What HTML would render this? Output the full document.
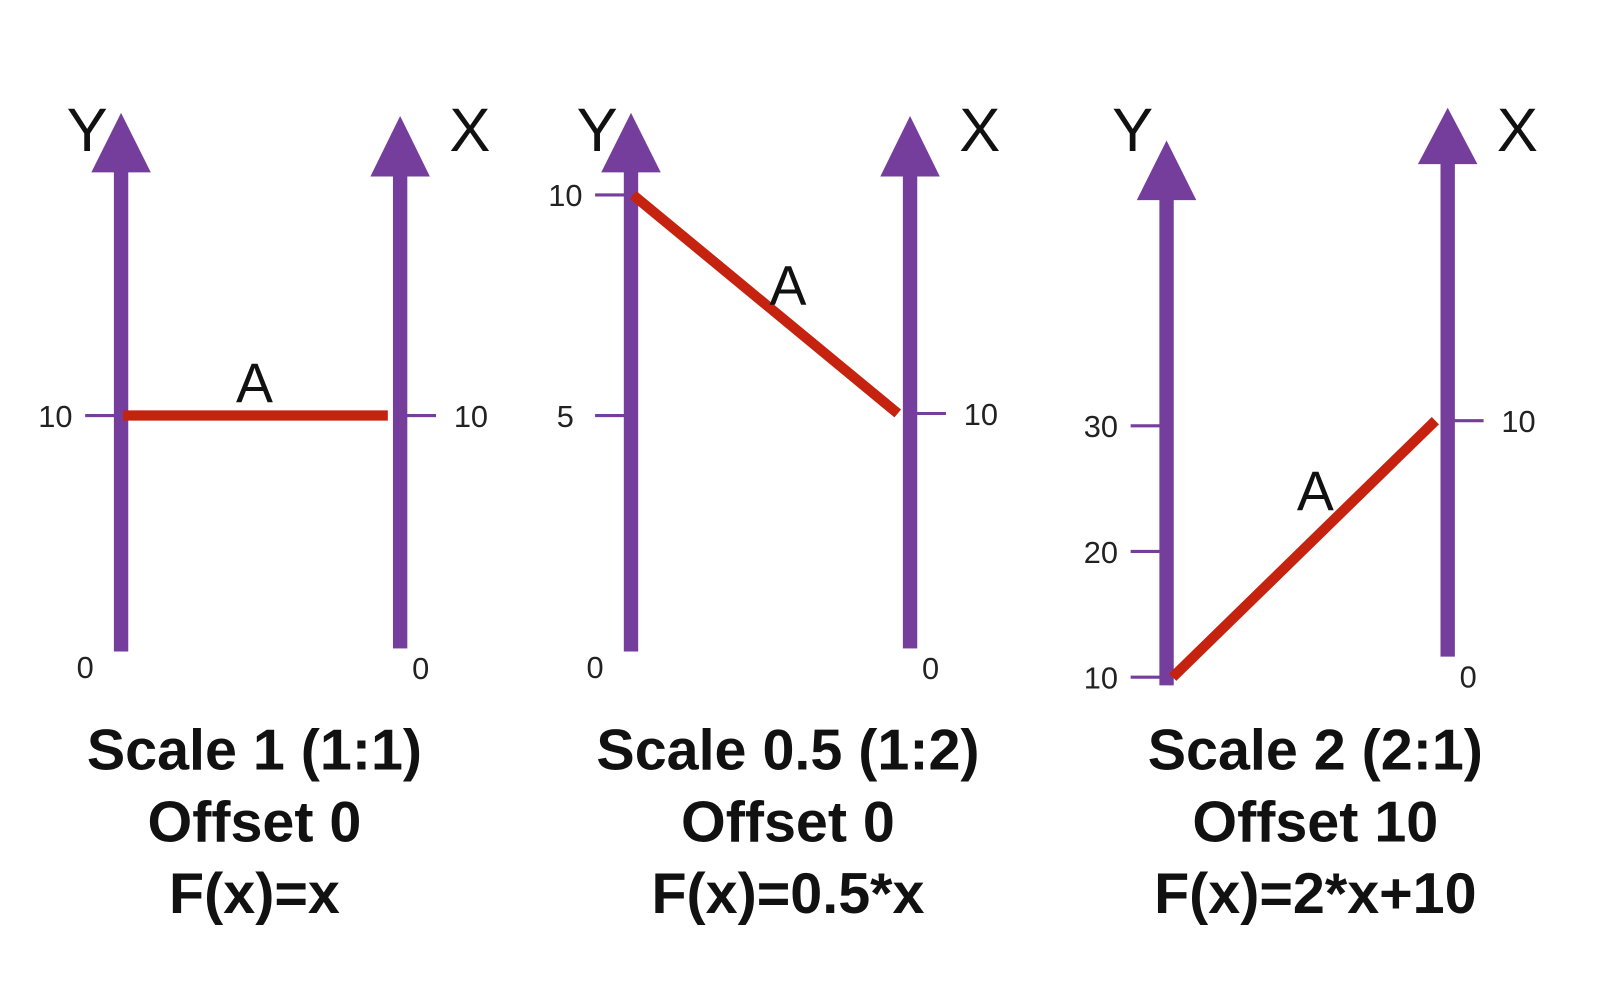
<!DOCTYPE html>
<html><head><meta charset="utf-8"><style>
html,body{margin:0;padding:0;background:#fff;}
svg{display:block;}
text{font-family:"Liberation Sans",sans-serif;}
</style></head><body>
<svg id="chart" width="1600" height="997" viewBox="0 0 1600 997" xmlns="http://www.w3.org/2000/svg">
<rect width="1600" height="997" fill="#fff"/>
<g id="root" transform="scale(1.026)"></g>
</svg>
<script>
// data
const panelTitles = ["Scale 1 (1:1)", "Scale 0.5 (1:2)", "Scale 2 (2:1)"];
const panelOffsets = ["Offset 0", "Offset 0", "Offset 10"];
const panelFormulas = ["F(x)=x", "F(x)=0.5*x", "F(x)=2*x+10"];
const lineStartY = [10, 10, 10];
const lineEndX = [10, 10, 10];
const yTickLabels = [["10"], ["5", "10"], ["10", "20", "30"]];
const yTickValues = [[10], [5, 10], [10, 20, 30]];
const yZeroLabels = ["0", "0", ""];
const xTickValues = [[10], [10], [10]];
const xTickLabels = [["10"], ["10"], ["10"]];

// layout (non-data)
const layout = [
  {yx:118, xx:390, yTip:110, yBase:168, yBot:635, xTip:113, xBase:172, xBot:632,
   yDom:[0,10], yRng:[635,405], xDom:[0,10], xRng:[632,405], cx:248, ax:248, ay:392},
  {yx:615, xx:887, yTip:110, yBase:168, yBot:635, xTip:113, xBase:172, xBot:632,
   yDom:[0,10], yRng:[620,190], xDom:[0,10], xRng:[632,403], cx:768, ax:768, ay:297},
  {yx:1137, xx:1411, yTip:137, yBase:195, yBot:668, xTip:105, xBase:160, xBot:640,
   yDom:[10,30], yRng:[660,415], xDom:[0,10], xRng:[650,410], cx:1282, ax:1282, ay:497}
];
const svg = document.getElementById('root');
const NS = 'http://www.w3.org/2000/svg';
function mk(tag, attrs, parent){const e=document.createElementNS(NS,tag);for(const k in attrs)e.setAttribute(k,attrs[k]);(parent||svg).appendChild(e);return e;}
function scale(dom,rng){return v=>rng[0]+(v-dom[0])*(rng[1]-rng[0])/(dom[1]-dom[0]);}
const PURPLE="#763e9c", RED="#c5220f";

layout.forEach((L,i)=>{
  const g=mk('g',{});
  
  
  const ys=scale(L.yDom,L.yRng), xs=scale(L.xDom,L.xRng);
  const ya=mk('rect',{x:L.yx-7,y:L.yBase-2,width:14,height:L.yBot-L.yBase+2,fill:PURPLE},g);
  
  
  const yh=mk('polygon',{points:`${L.yx},${L.yTip} ${L.yx-29},${L.yBase} ${L.yx+29},${L.yBase}`,fill:PURPLE},g);
  
  
  const xa=mk('rect',{x:L.xx-7,y:L.xBase-2,width:14,height:L.xBot-L.xBase+2,fill:PURPLE},g);
  
  
  const xh=mk('polygon',{points:`${L.xx},${L.xTip} ${L.xx-29},${L.xBase} ${L.xx+29},${L.xBase}`,fill:PURPLE},g);
  
  
  const yl=mk('text',{x:L.yx-33,y:147,'font-size':60,'text-anchor':'middle',fill:'#111'},g);yl.textContent='Y';
  
  
  const xl=mk('text',{x:L.xx+68,y:147,'font-size':60,'text-anchor':'middle',fill:'#111'},g);xl.textContent='X';
  
  
  yTickValues[i].forEach((v,j)=>{
    const y=ys(v);
    const t=mk('line',{x1:L.yx-35,x2:L.yx,y1:y,y2:y,stroke:PURPLE,'stroke-width':3},g);
    
    
    const tl=mk('text',{x:L.yx-64,y:y+11,'font-size':30,'text-anchor':'middle',fill:'#222'},g);tl.textContent=yTickLabels[i][j];
    
    
  });
  xTickValues[i].forEach((v,j)=>{
    const y=xs(v);
    const t=mk('line',{x1:L.xx,x2:L.xx+35,y1:y,y2:y,stroke:PURPLE,'stroke-width':3},g);
    
    
    const tl=mk('text',{x:L.xx+69,y:y+11,'font-size':30,'text-anchor':'middle',fill:'#222'},g);tl.textContent=xTickLabels[i][j];
    
    
  });
  if(yZeroLabels[i]){
    const z=mk('text',{x:L.yx-35,y:661,'font-size':30,'text-anchor':'middle',fill:'#222'},g);z.textContent=yZeroLabels[i];
    
    
  }
  const xz=mk('text',{x:L.xx+20,y:L.xBot+30,'font-size':30,'text-anchor':'middle',fill:'#222'},g);xz.textContent='0';
  
  
  const ln=mk('line',{x1:L.yx+(i===2?6:2),y1:ys(lineStartY[i]),x2:L.xx-12,y2:xs(lineEndX[i]),stroke:RED,'stroke-width':10},g);
  
  
  const a=mk('text',{x:L.ax,y:L.ay,'font-size':54,'text-anchor':'middle',fill:'#111'},g);a.textContent='A';
  
  
  [panelTitles[i],panelOffsets[i],panelFormulas[i]].forEach((s,k)=>{
    const c=mk('text',{x:L.cx,y:750+k*70,'font-size':56,'font-weight':'bold','text-anchor':'middle',fill:'#111'},g);c.textContent=s;
    
    
  });
});
</script>
</body></html>
